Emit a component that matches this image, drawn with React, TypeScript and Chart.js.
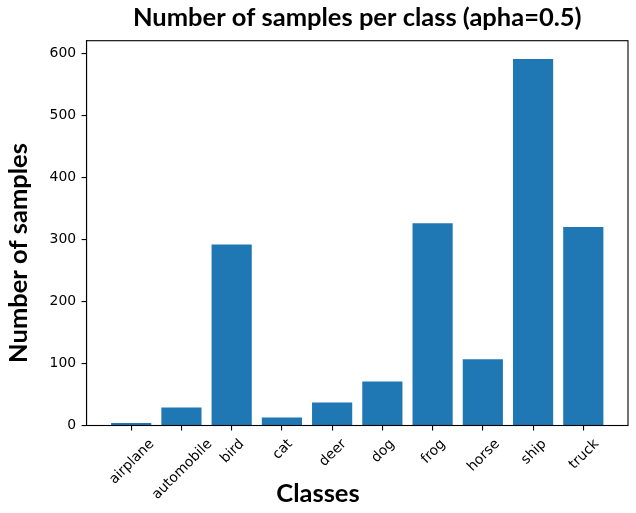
import { useEffect, useRef } from "react";
import { Chart, registerables } from "chart.js";

Chart.register(...registerables);

const categories = ["airplane", "automobile", "bird", "cat", "deer", "dog", "frog", "horse", "ship", "truck"];
const sampleCounts = [4, 29, 292, 13, 37, 71, 326, 107, 591, 320];
const yTickValues = [0, 100, 200, 300, 400, 500, 600];
const titleText = "Number of samples per class (apha=0.5)";
const xLabelText = "Classes";
const yLabelText = "Number of samples";

export default function App() {
  const ref = useRef<HTMLCanvasElement>(null);

  useEffect(() => {
    document.body.style.margin = "0";
    const canvas = ref.current;
    if (!canvas) return;
    const yMax = Math.max(...sampleCounts) * 1.05;
    const xPad = 0.4 + 0.05 * (categories.length - 1 + 0.8);
    const tickFont = 13.9;

    const textPlugin = {
      id: "mplText",
      afterDraw(chart: any) {
        const { ctx, chartArea, scales } = chart;
        const xs = scales.x;
        ctx.save();
        ctx.strokeStyle = "#000";
        ctx.lineWidth = 1.1;
        ctx.strokeRect(
          chartArea.left,
          chartArea.top,
          chartArea.right - chartArea.left,
          chartArea.bottom - chartArea.top
        );
        ctx.fillStyle = "#000";
        ctx.font = `${tickFont}px "DejaVu Sans"`;
        ctx.textAlign = "center";
        ctx.textBaseline = "alphabetic";
        const h = tickFont * 1.164;
        const top = chartArea.bottom + 4.9 + 4.9;
        categories.forEach((c, i) => {
          const x = xs.getPixelForValue(i);
          const w = ctx.measureText(c).width;
          const cy = top + ((w + h) * Math.SQRT1_2) / 2;
          ctx.save();
          ctx.translate(x, cy);
          ctx.rotate(-Math.PI / 4);
          ctx.fillText(c, 0, 0.346 * tickFont);
          ctx.restore();
        });
        ctx.font = `bold 25.5px Lato`;
        ctx.fillText(titleText, (chartArea.left + chartArea.right) / 2, 26);
        ctx.fillText(xLabelText, chart.width / 2, 502);
        ctx.save();
        ctx.translate(27, 253);
        ctx.rotate(-Math.PI / 2);
        ctx.fillText(yLabelText, 0, 0);
        ctx.restore();
        ctx.restore();
      },
    };

    const axisCommon = {
      offset: false,
      grid: {
        offset: false,
        drawOnChartArea: false,
        drawTicks: true,
        tickLength: 4.9,
        color: "#000",
        lineWidth: 1.1,
      },
      border: { display: true, color: "#000", width: 1.1 },
    };

    const chart = new Chart(canvas, {
      type: "bar",
      data: {
        datasets: [
          {
            data: categories.map((_, i) => ({ x: i, y: sampleCounts[i] })),
            backgroundColor: "#1f77b4",
            borderWidth: 0,
            categoryPercentage: 0.8,
            barPercentage: 1.0,
          },
        ],
      },
      options: {
        responsive: false,
        animation: false,
        devicePixelRatio: 1,
        layout: { padding: { top: 40.7, right: 8, left: 0, bottom: 0 } },
        plugins: {
          legend: { display: false },
          tooltip: { enabled: false },
          title: { display: false },
        },
        scales: {
          x: {
            type: "linear",
            min: -xPad,
            max: categories.length - 1 + xPad,
            ...axisCommon,
            ticks: { display: false },
            afterBuildTicks: (scale: any) => {
              scale.ticks = categories.map((_, i) => ({ value: i }));
            },
            afterFit: (scale: any) => {
              scale.height = 87.5;
            },
          },
          y: {
            type: "linear",
            min: 0,
            max: yMax,
            ...axisCommon,
            ticks: {
              color: "#000",
              padding: 5.5,
              font: { family: "DejaVu Sans", size: tickFont },
            },
            afterBuildTicks: (scale: any) => {
              scale.ticks = yTickValues.map((v) => ({ value: v }));
            },
            afterFit: (scale: any) => {
              scale.width = 86.5;
            },
          },
        },
      },
      plugins: [textPlugin],
    } as any);

    return () => chart.destroy();
  }, []);

  return (
    <div style={{ width: 636, height: 513 }}>
      <canvas ref={ref} width={636} height={513} style={{ display: "block" }} />
    </div>
  );
}
